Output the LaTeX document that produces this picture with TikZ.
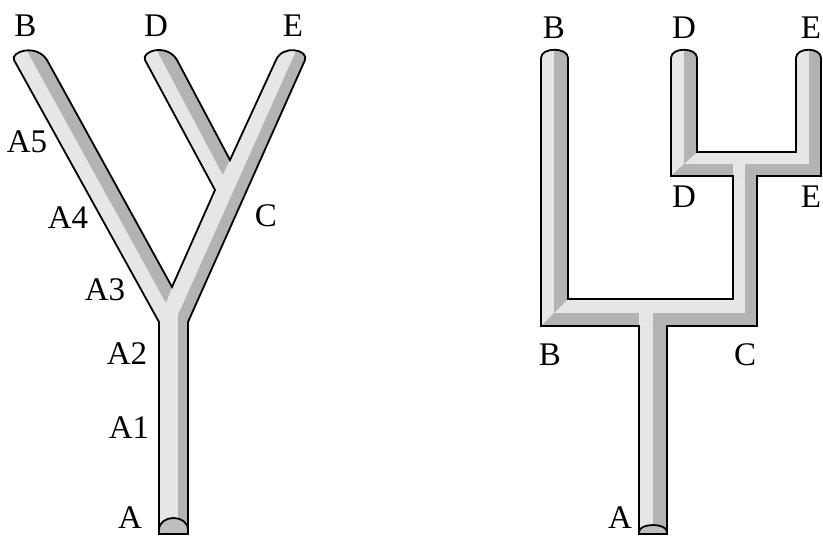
\documentclass[tikz,border=0pt]{standalone}
\usepackage{fontspec}
\setmainfont{Liberation Serif}
\definecolor{tubelight}{RGB}{230,230,230}
\definecolor{tubedark}{RGB}{179,179,179}
\definecolor{tubeend}{RGB}{190,190,190}
\tikzset{
  lab/.style={inner sep=0pt, font=\fontsize{33}{38}\selectfont},
  tubeline/.style={draw=black, line width=1.8pt, line join=miter},
  darkpart/.style={fill=tubedark},
  lightpart/.style={fill=tubelight},
}
\def\lefttube{(159,534) -- (159,322) -- (14,60) .. controls (10,52) and (36,43) .. (47,60) -- (172,287) -- (215,190) -- (145,60) .. controls (141,51) and (167,43) .. (177,60) -- (230,160) -- (276,60) .. controls (283,44) and (309,50) .. (305,60) -- (188,322) -- (188,534) -- cycle}
\def\righttube{(639,534) -- (639,326) -- (541,326) -- (541,58) .. controls (541,47) and (568,47) .. (568,58) -- (568,299) -- (733,299) -- (733,176) -- (671,176) -- (671,58) .. controls (671,47) and (697,47) .. (697,58) -- (697,152) -- (796,152) -- (796,58) .. controls (796,47) and (821,47) .. (821,58) -- (821,176) -- (757,176) -- (757,326) -- (667,326) -- (667,534) -- cycle}
\begin{document}
\begin{tikzpicture}[x=1pt,y=-1pt]
\useasboundingbox (0,0) rectangle (823,536);
% ---------- left tube (Y shape)
\begin{scope}
  \clip \lefttube;
  \fill[tubelight] (0,0) rectangle (400,536);
  % stem + C/E branch dark strip
  \fill[darkpart] (178,540) -- (178,315) -- (305.4,30) -- (318.4,30) -- (188,322) -- (188,540) -- cycle;
  % B branch dark strip
  \fill[darkpart] (15.5,30) -- (30.5,30) -- (172,287) -- (166,303) -- cycle;
  % D branch dark strip
  \fill[darkpart] (146.1,30) -- (161.1,30) -- (230,160) -- (222.7,174.6) -- cycle;
  % bottom end
  \fill[tubeend] (159,530) .. controls (159,514) and (188,514) .. (188,530) -- (188,540) -- (159,540) -- cycle;
\end{scope}
\draw[tubeline] \lefttube;
\draw[tubeline] (159,530) .. controls (159,514) and (188,514) .. (188,530);
% ---------- right tube (rectangular tree)
\begin{scope}
  \clip \righttube;
  \fill[tubelight] (500,0) rectangle (823,536);
  \fill[darkpart] (554,30) -- (568,30) -- (568,299) -- (554,313) -- cycle;
  \fill[darkpart] (554,313) -- (757,313) -- (757,326) -- (541,326) -- cycle;
  \fill[darkpart] (653,320) -- (667,320) -- (667,540) -- (653,540) -- cycle;
  \fill[darkpart] (745,164) -- (757,164) -- (757,326) -- (745,326) -- cycle;
  \fill[darkpart] (684,164) -- (823,164) -- (823,176) -- (671,176) -- cycle;
  \fill[darkpart] (684,30) -- (697,30) -- (697,152) -- (684,164) -- cycle;
  \fill[darkpart] (809,30) -- (823,30) -- (823,176) -- (809,176) -- cycle;
  \fill[lightpart] (639,313) rectangle (653,326);
  \fill[lightpart] (733,164) rectangle (745,176);
  \fill[tubeend] (639,532) .. controls (639,522.7) and (667,522.7) .. (667,532) -- (667,540) -- (639,540) -- cycle;
\end{scope}
\draw[tubeline] \righttube;
\draw[tubeline] (639,532) .. controls (639,522.7) and (667,522.7) .. (667,532);
% ---------- labels, left
\node[lab] (lB) at (25.5,26) {B};
\node[lab] (lD) at (156,26) {D};
\node[lab] (lE) at (293,26) {E};
\node[lab] (lA5) at (27,142) {A5};
\node[lab] (lA4) at (68,218) {A4};
\node[lab] (lA3) at (105,290) {A3};
\node[lab] (lA2) at (127,354) {A2};
\node[lab] (lA1) at (129,428) {A1};
\node[lab] (lA) at (130,517.5) {A};
\node[lab] (lC) at (266,216) {C};
% ---------- labels, right
\node[lab] (rB) at (554,28) {B};
\node[lab] (rD) at (684,28) {D};
\node[lab] (rE) at (811,28) {E};
\node[lab] (rD2) at (684,197) {D};
\node[lab] (rE2) at (811,197) {E};
\node[lab] (rB2) at (550,355) {B};
\node[lab] (rC) at (745,355) {C};
\node[lab] (rA) at (620,517.5) {A};
\end{tikzpicture}
\end{document}
